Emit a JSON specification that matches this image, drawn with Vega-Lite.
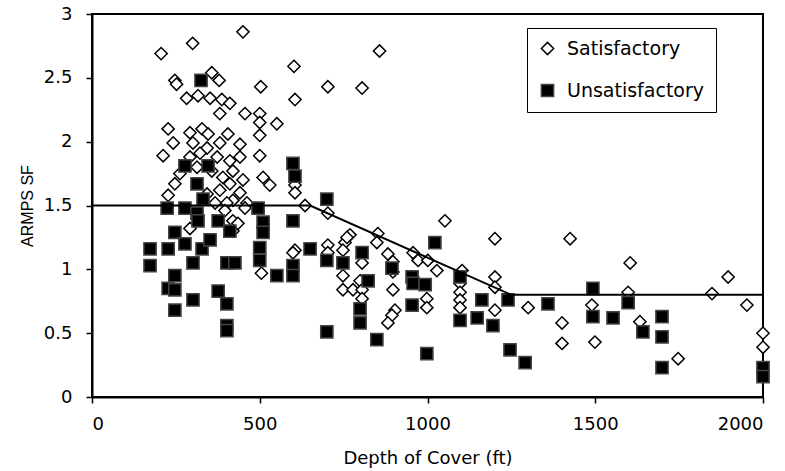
{
  "$schema": "https://vega.github.io/schema/vega-lite/v6.json",
  "width": 671,
  "height": 383,
  "autosize": {"type": "none"},
  "padding": {"left": 92, "top": 14, "right": 22, "bottom": 74},
  "background": "white",
  "config": {
    "font": "DejaVu Sans",
    "view": {"stroke": "black", "strokeWidth": 2},
    "axis": {
      "grid": false,
      "domainColor": "black",
      "domainWidth": 2,
      "tickColor": "black",
      "tickWidth": 1.5,
      "tickSize": 6,
      "labelColor": "black",
      "labelFont": "DejaVu Sans",
      "labelFontSize": 18,
      "titleColor": "black",
      "titleFont": "DejaVu Sans",
      "titleFontSize": 18,
      "titleFontWeight": "normal"
    },
    "legend": {
      "strokeColor": "black",
      "fillColor": "white",
      "padding": 11,
      "rowPadding": 22,
      "labelFont": "DejaVu Sans",
      "labelFontSize": 19,
      "labelColor": "black",
      "symbolSize": 150,
      "symbolStrokeWidth": 1.5,
      "labelOffset": 10,
      "labelLimit": 300
    }
  },
  "datasets": {
    "line": [
      {"depth": 0, "sf": 1.5},
      {"depth": 650, "sf": 1.5},
      {"depth": 1250, "sf": 0.8},
      {"depth": 2000, "sf": 0.8}
    ],
    "pts": [
      {"depth": 450, "sf": 2.86, "case": "Satisfactory"},
      {"depth": 300, "sf": 2.77, "case": "Satisfactory"},
      {"depth": 206, "sf": 2.69, "case": "Satisfactory"},
      {"depth": 857, "sf": 2.71, "case": "Satisfactory"},
      {"depth": 602, "sf": 2.59, "case": "Satisfactory"},
      {"depth": 247, "sf": 2.48, "case": "Satisfactory"},
      {"depth": 252, "sf": 2.45, "case": "Satisfactory"},
      {"depth": 357, "sf": 2.54, "case": "Satisfactory"},
      {"depth": 379, "sf": 2.48, "case": "Satisfactory"},
      {"depth": 503, "sf": 2.43, "case": "Satisfactory"},
      {"depth": 703, "sf": 2.43, "case": "Satisfactory"},
      {"depth": 805, "sf": 2.42, "case": "Satisfactory"},
      {"depth": 605, "sf": 2.33, "case": "Satisfactory"},
      {"depth": 282, "sf": 2.34, "case": "Satisfactory"},
      {"depth": 316, "sf": 2.36, "case": "Satisfactory"},
      {"depth": 352, "sf": 2.34, "case": "Satisfactory"},
      {"depth": 387, "sf": 2.33, "case": "Satisfactory"},
      {"depth": 411, "sf": 2.30, "case": "Satisfactory"},
      {"depth": 381, "sf": 2.22, "case": "Satisfactory"},
      {"depth": 456, "sf": 2.22, "case": "Satisfactory"},
      {"depth": 500, "sf": 2.22, "case": "Satisfactory"},
      {"depth": 500, "sf": 2.15, "case": "Satisfactory"},
      {"depth": 551, "sf": 2.14, "case": "Satisfactory"},
      {"depth": 500, "sf": 2.05, "case": "Satisfactory"},
      {"depth": 227, "sf": 2.10, "case": "Satisfactory"},
      {"depth": 242, "sf": 1.99, "case": "Satisfactory"},
      {"depth": 292, "sf": 2.07, "case": "Satisfactory"},
      {"depth": 328, "sf": 2.10, "case": "Satisfactory"},
      {"depth": 346, "sf": 2.06, "case": "Satisfactory"},
      {"depth": 405, "sf": 2.06, "case": "Satisfactory"},
      {"depth": 301, "sf": 1.99, "case": "Satisfactory"},
      {"depth": 343, "sf": 1.95, "case": "Satisfactory"},
      {"depth": 381, "sf": 1.99, "case": "Satisfactory"},
      {"depth": 441, "sf": 1.98, "case": "Satisfactory"},
      {"depth": 500, "sf": 1.89, "case": "Satisfactory"},
      {"depth": 212, "sf": 1.89, "case": "Satisfactory"},
      {"depth": 292, "sf": 1.88, "case": "Satisfactory"},
      {"depth": 322, "sf": 1.91, "case": "Satisfactory"},
      {"depth": 373, "sf": 1.88, "case": "Satisfactory"},
      {"depth": 411, "sf": 1.85, "case": "Satisfactory"},
      {"depth": 441, "sf": 1.88, "case": "Satisfactory"},
      {"depth": 262, "sf": 1.75, "case": "Satisfactory"},
      {"depth": 313, "sf": 1.80, "case": "Satisfactory"},
      {"depth": 357, "sf": 1.77, "case": "Satisfactory"},
      {"depth": 390, "sf": 1.72, "case": "Satisfactory"},
      {"depth": 420, "sf": 1.77, "case": "Satisfactory"},
      {"depth": 450, "sf": 1.70, "case": "Satisfactory"},
      {"depth": 510, "sf": 1.72, "case": "Satisfactory"},
      {"depth": 530, "sf": 1.66, "case": "Satisfactory"},
      {"depth": 605, "sf": 1.66, "case": "Satisfactory"},
      {"depth": 605, "sf": 1.60, "case": "Satisfactory"},
      {"depth": 247, "sf": 1.67, "case": "Satisfactory"},
      {"depth": 411, "sf": 1.67, "case": "Satisfactory"},
      {"depth": 381, "sf": 1.62, "case": "Satisfactory"},
      {"depth": 441, "sf": 1.60, "case": "Satisfactory"},
      {"depth": 227, "sf": 1.58, "case": "Satisfactory"},
      {"depth": 343, "sf": 1.59, "case": "Satisfactory"},
      {"depth": 420, "sf": 1.54, "case": "Satisfactory"},
      {"depth": 367, "sf": 1.52, "case": "Satisfactory"},
      {"depth": 402, "sf": 1.52, "case": "Satisfactory"},
      {"depth": 462, "sf": 1.52, "case": "Satisfactory"},
      {"depth": 456, "sf": 1.48, "case": "Satisfactory"},
      {"depth": 396, "sf": 1.46, "case": "Satisfactory"},
      {"depth": 635, "sf": 1.50, "case": "Satisfactory"},
      {"depth": 703, "sf": 1.44, "case": "Satisfactory"},
      {"depth": 420, "sf": 1.38, "case": "Satisfactory"},
      {"depth": 435, "sf": 1.36, "case": "Satisfactory"},
      {"depth": 292, "sf": 1.32, "case": "Satisfactory"},
      {"depth": 420, "sf": 1.30, "case": "Satisfactory"},
      {"depth": 1052, "sf": 1.38, "case": "Satisfactory"},
      {"depth": 852, "sf": 1.28, "case": "Satisfactory"},
      {"depth": 849, "sf": 1.21, "case": "Satisfactory"},
      {"depth": 769, "sf": 1.27, "case": "Satisfactory"},
      {"depth": 754, "sf": 1.21, "case": "Satisfactory"},
      {"depth": 760, "sf": 1.25, "case": "Satisfactory"},
      {"depth": 703, "sf": 1.19, "case": "Satisfactory"},
      {"depth": 703, "sf": 1.13, "case": "Satisfactory"},
      {"depth": 748, "sf": 1.15, "case": "Satisfactory"},
      {"depth": 605, "sf": 1.15, "case": "Satisfactory"},
      {"depth": 805, "sf": 1.05, "case": "Satisfactory"},
      {"depth": 748, "sf": 0.95, "case": "Satisfactory"},
      {"depth": 799, "sf": 0.91, "case": "Satisfactory"},
      {"depth": 748, "sf": 0.84, "case": "Satisfactory"},
      {"depth": 778, "sf": 0.84, "case": "Satisfactory"},
      {"depth": 805, "sf": 0.84, "case": "Satisfactory"},
      {"depth": 805, "sf": 0.77, "case": "Satisfactory"},
      {"depth": 882, "sf": 1.12, "case": "Satisfactory"},
      {"depth": 897, "sf": 1.06, "case": "Satisfactory"},
      {"depth": 897, "sf": 0.98, "case": "Satisfactory"},
      {"depth": 897, "sf": 0.84, "case": "Satisfactory"},
      {"depth": 903, "sf": 0.68, "case": "Satisfactory"},
      {"depth": 894, "sf": 0.64, "case": "Satisfactory"},
      {"depth": 882, "sf": 0.58, "case": "Satisfactory"},
      {"depth": 957, "sf": 1.13, "case": "Satisfactory"},
      {"depth": 972, "sf": 1.07, "case": "Satisfactory"},
      {"depth": 1001, "sf": 1.07, "case": "Satisfactory"},
      {"depth": 1028, "sf": 0.99, "case": "Satisfactory"},
      {"depth": 998, "sf": 0.77, "case": "Satisfactory"},
      {"depth": 998, "sf": 0.70, "case": "Satisfactory"},
      {"depth": 1103, "sf": 0.99, "case": "Satisfactory"},
      {"depth": 1097, "sf": 0.89, "case": "Satisfactory"},
      {"depth": 1097, "sf": 0.82, "case": "Satisfactory"},
      {"depth": 1097, "sf": 0.76, "case": "Satisfactory"},
      {"depth": 1097, "sf": 0.70, "case": "Satisfactory"},
      {"depth": 1201, "sf": 1.24, "case": "Satisfactory"},
      {"depth": 1425, "sf": 1.24, "case": "Satisfactory"},
      {"depth": 1604, "sf": 1.05, "case": "Satisfactory"},
      {"depth": 1201, "sf": 0.94, "case": "Satisfactory"},
      {"depth": 1201, "sf": 0.86, "case": "Satisfactory"},
      {"depth": 1201, "sf": 0.68, "case": "Satisfactory"},
      {"depth": 1300, "sf": 0.70, "case": "Satisfactory"},
      {"depth": 1490, "sf": 0.72, "case": "Satisfactory"},
      {"depth": 1401, "sf": 0.58, "case": "Satisfactory"},
      {"depth": 1401, "sf": 0.42, "case": "Satisfactory"},
      {"depth": 1499, "sf": 0.43, "case": "Satisfactory"},
      {"depth": 1598, "sf": 0.82, "case": "Satisfactory"},
      {"depth": 1633, "sf": 0.59, "case": "Satisfactory"},
      {"depth": 1747, "sf": 0.30, "case": "Satisfactory"},
      {"depth": 1896, "sf": 0.94, "case": "Satisfactory"},
      {"depth": 1848, "sf": 0.81, "case": "Satisfactory"},
      {"depth": 1952, "sf": 0.72, "case": "Satisfactory"},
      {"depth": 2000, "sf": 0.50, "case": "Satisfactory"},
      {"depth": 2000, "sf": 0.39, "case": "Satisfactory"},
      {"depth": 505, "sf": 0.97, "case": "Satisfactory"},
      {"depth": 599, "sf": 1.13, "case": "Satisfactory"},
      {"depth": 325, "sf": 2.48, "case": "Unsatisfactory"},
      {"depth": 277, "sf": 1.81, "case": "Unsatisfactory"},
      {"depth": 346, "sf": 1.81, "case": "Unsatisfactory"},
      {"depth": 313, "sf": 1.67, "case": "Unsatisfactory"},
      {"depth": 331, "sf": 1.55, "case": "Unsatisfactory"},
      {"depth": 599, "sf": 1.83, "case": "Unsatisfactory"},
      {"depth": 605, "sf": 1.73, "case": "Unsatisfactory"},
      {"depth": 224, "sf": 1.48, "case": "Unsatisfactory"},
      {"depth": 277, "sf": 1.48, "case": "Unsatisfactory"},
      {"depth": 495, "sf": 1.48, "case": "Unsatisfactory"},
      {"depth": 700, "sf": 1.55, "case": "Unsatisfactory"},
      {"depth": 313, "sf": 1.44, "case": "Unsatisfactory"},
      {"depth": 316, "sf": 1.38, "case": "Unsatisfactory"},
      {"depth": 376, "sf": 1.38, "case": "Unsatisfactory"},
      {"depth": 411, "sf": 1.30, "case": "Unsatisfactory"},
      {"depth": 510, "sf": 1.37, "case": "Unsatisfactory"},
      {"depth": 510, "sf": 1.29, "case": "Unsatisfactory"},
      {"depth": 599, "sf": 1.38, "case": "Unsatisfactory"},
      {"depth": 247, "sf": 1.29, "case": "Unsatisfactory"},
      {"depth": 277, "sf": 1.20, "case": "Unsatisfactory"},
      {"depth": 328, "sf": 1.16, "case": "Unsatisfactory"},
      {"depth": 352, "sf": 1.23, "case": "Unsatisfactory"},
      {"depth": 173, "sf": 1.16, "case": "Unsatisfactory"},
      {"depth": 227, "sf": 1.16, "case": "Unsatisfactory"},
      {"depth": 500, "sf": 1.17, "case": "Unsatisfactory"},
      {"depth": 650, "sf": 1.16, "case": "Unsatisfactory"},
      {"depth": 173, "sf": 1.03, "case": "Unsatisfactory"},
      {"depth": 301, "sf": 1.05, "case": "Unsatisfactory"},
      {"depth": 402, "sf": 1.05, "case": "Unsatisfactory"},
      {"depth": 426, "sf": 1.05, "case": "Unsatisfactory"},
      {"depth": 500, "sf": 1.07, "case": "Unsatisfactory"},
      {"depth": 599, "sf": 1.03, "case": "Unsatisfactory"},
      {"depth": 599, "sf": 0.95, "case": "Unsatisfactory"},
      {"depth": 551, "sf": 0.95, "case": "Unsatisfactory"},
      {"depth": 247, "sf": 0.95, "case": "Unsatisfactory"},
      {"depth": 227, "sf": 0.85, "case": "Unsatisfactory"},
      {"depth": 247, "sf": 0.84, "case": "Unsatisfactory"},
      {"depth": 301, "sf": 0.76, "case": "Unsatisfactory"},
      {"depth": 376, "sf": 0.83, "case": "Unsatisfactory"},
      {"depth": 402, "sf": 0.73, "case": "Unsatisfactory"},
      {"depth": 247, "sf": 0.68, "case": "Unsatisfactory"},
      {"depth": 402, "sf": 0.56, "case": "Unsatisfactory"},
      {"depth": 402, "sf": 0.52, "case": "Unsatisfactory"},
      {"depth": 700, "sf": 1.07, "case": "Unsatisfactory"},
      {"depth": 748, "sf": 1.05, "case": "Unsatisfactory"},
      {"depth": 805, "sf": 1.13, "case": "Unsatisfactory"},
      {"depth": 823, "sf": 0.91, "case": "Unsatisfactory"},
      {"depth": 799, "sf": 0.69, "case": "Unsatisfactory"},
      {"depth": 799, "sf": 0.58, "case": "Unsatisfactory"},
      {"depth": 700, "sf": 0.51, "case": "Unsatisfactory"},
      {"depth": 894, "sf": 1.01, "case": "Unsatisfactory"},
      {"depth": 849, "sf": 0.45, "case": "Unsatisfactory"},
      {"depth": 1022, "sf": 1.21, "case": "Unsatisfactory"},
      {"depth": 954, "sf": 0.94, "case": "Unsatisfactory"},
      {"depth": 957, "sf": 0.89, "case": "Unsatisfactory"},
      {"depth": 993, "sf": 0.88, "case": "Unsatisfactory"},
      {"depth": 954, "sf": 0.72, "case": "Unsatisfactory"},
      {"depth": 998, "sf": 0.34, "case": "Unsatisfactory"},
      {"depth": 1097, "sf": 0.94, "case": "Unsatisfactory"},
      {"depth": 1097, "sf": 0.60, "case": "Unsatisfactory"},
      {"depth": 1148, "sf": 0.62, "case": "Unsatisfactory"},
      {"depth": 1162, "sf": 0.76, "case": "Unsatisfactory"},
      {"depth": 1240, "sf": 0.76, "case": "Unsatisfactory"},
      {"depth": 1195, "sf": 0.56, "case": "Unsatisfactory"},
      {"depth": 1359, "sf": 0.73, "case": "Unsatisfactory"},
      {"depth": 1493, "sf": 0.85, "case": "Unsatisfactory"},
      {"depth": 1493, "sf": 0.63, "case": "Unsatisfactory"},
      {"depth": 1553, "sf": 0.62, "case": "Unsatisfactory"},
      {"depth": 1246, "sf": 0.37, "case": "Unsatisfactory"},
      {"depth": 1291, "sf": 0.27, "case": "Unsatisfactory"},
      {"depth": 1598, "sf": 0.74, "case": "Unsatisfactory"},
      {"depth": 1642, "sf": 0.51, "case": "Unsatisfactory"},
      {"depth": 1699, "sf": 0.63, "case": "Unsatisfactory"},
      {"depth": 1699, "sf": 0.47, "case": "Unsatisfactory"},
      {"depth": 1699, "sf": 0.23, "case": "Unsatisfactory"},
      {"depth": 2000, "sf": 0.23, "case": "Unsatisfactory"},
      {"depth": 2000, "sf": 0.16, "case": "Unsatisfactory"}
    ]
  },
  "layer": [
    {
      "data": {"name": "pts"},
      "mark": {"type": "point", "filled": true, "size": 150, "strokeWidth": 1.5, "opacity": 1, "fillOpacity": 1, "strokeOpacity": 1},
      "encoding": {
        "x": {
          "field": "depth", "type": "quantitative",
          "scale": {"domain": [0, 2000], "nice": false},
          "axis": {"values": [0, 500, 1000, 1500, 2000], "format": "d", "title": "Depth of Cover (ft)", "labelPadding": 12, "titlePadding": 16}
        },
        "y": {
          "field": "sf", "type": "quantitative",
          "scale": {"domain": [0, 3], "nice": false},
          "axis": {"values": [0, 0.5, 1, 1.5, 2, 2.5, 3], "format": "~g", "title": "ARMPS SF", "titleFont": "Liberation Sans", "titleFontSize": 16, "labelPadding": 14, "titlePadding": 8}
        },
        "shape": {
          "field": "case", "type": "nominal",
          "scale": {"domain": ["Satisfactory", "Unsatisfactory"], "range": ["diamond", "square"]},
          "legend": {"title": null, "orient": "none", "legendX": 435, "legendY": 14, "direction": "vertical"}
        },
        "fill": {
          "field": "case", "type": "nominal",
          "scale": {"domain": ["Satisfactory", "Unsatisfactory"], "range": ["white", "black"]},
          "legend": {"title": null, "orient": "none", "legendX": 435, "legendY": 14, "direction": "vertical"}
        },
        "stroke": {
          "field": "case", "type": "nominal",
          "scale": {"domain": ["Satisfactory", "Unsatisfactory"], "range": ["black", "#444444"]},
          "legend": {"title": null, "orient": "none", "legendX": 435, "legendY": 14, "direction": "vertical"}
        }
      }
    },
    {
      "data": {"name": "line"},
      "mark": {"type": "line", "color": "black", "strokeWidth": 2},
      "encoding": {
        "x": {"field": "depth", "type": "quantitative"},
        "y": {"field": "sf", "type": "quantitative"}
      }
    }
  ]
}
